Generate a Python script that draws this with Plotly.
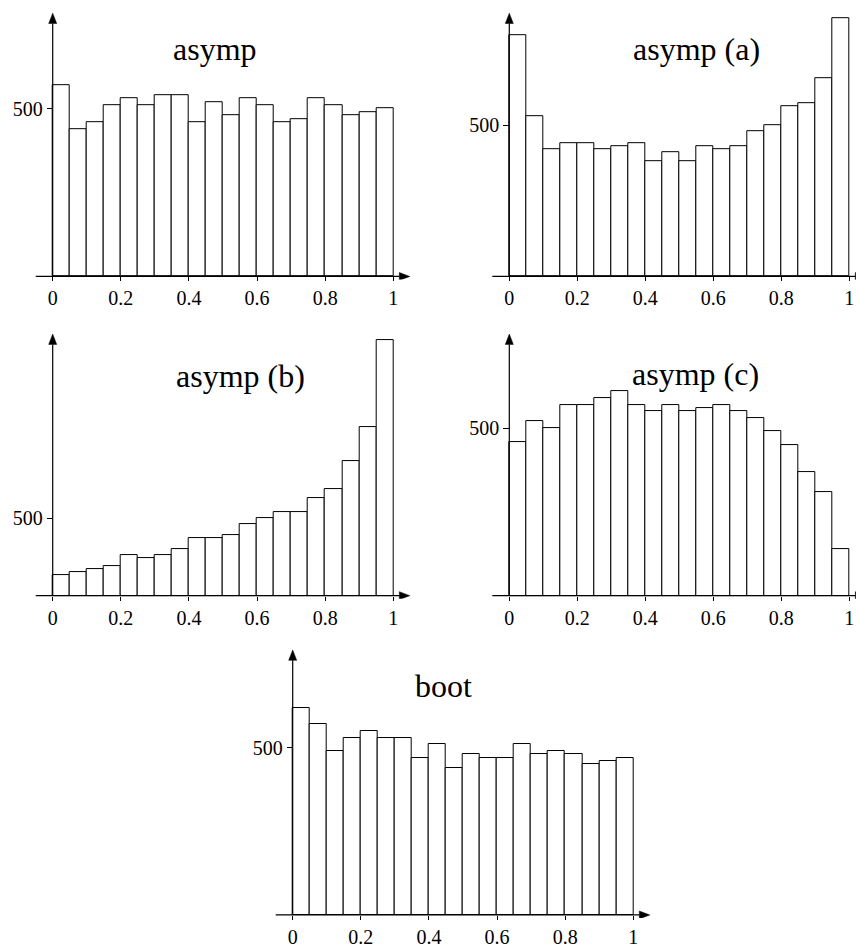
import plotly.graph_objects as go

# ---------------- data ----------------
bin_left = [0.00, 0.05, 0.10, 0.15, 0.20, 0.25, 0.30, 0.35, 0.40, 0.45,
            0.50, 0.55, 0.60, 0.65, 0.70, 0.75, 0.80, 0.85, 0.90, 0.95]
bin_width = 0.05

asymp   = [570, 440, 460, 510, 530, 510, 540, 540, 460, 520,
           480, 530, 510, 460, 470, 530, 510, 480, 490, 500]
asymp_a = [800, 530, 420, 440, 440, 420, 430, 440, 380, 410,
           380, 430, 420, 430, 480, 500, 565, 575, 655, 855]
asymp_b = [130, 150, 170, 190, 260, 240, 260, 300, 370, 370,
           390, 460, 500, 540, 540, 630, 690, 870, 1090, 1650]
asymp_c = [460, 520, 500, 570, 570, 590, 610, 570, 550, 570,
           550, 560, 570, 550, 530, 490, 450, 370, 310, 140]
boot    = [620, 570, 490, 530, 550, 530, 530, 470, 510, 440,
           480, 470, 470, 510, 480, 490, 480, 450, 460, 470]

titles = ["asymp", "asymp (a)", "asymp (b)", "asymp (c)", "boot"]
series = [asymp, asymp_a, asymp_b, asymp_c, boot]

x_ticks = [0, 0.2, 0.4, 0.6, 0.8, 1]
x_tick_labels = ["0", "0.2", "0.4", "0.6", "0.8", "1"]
y_ticks = [500]
y_tick_labels = ["500"]

# ---------------- layout geometry (pixels) ----------------
W, H = 856, 948
FONT = "Liberation Serif, DejaVu Serif, serif"

geo = [
    dict(x0=52.7,  x1=393.3, base=280.0, y500=110.0, tip=13.3,  tx=215.0, ty=50),
    dict(x0=509.3, x1=849.3, base=280.0, y500=127.0, tip=13.3,  tx=696.0, ty=50),
    dict(x0=52.7,  x1=393.3, base=603.3, y500=525.0, tip=338.3, tx=240.5, ty=381),
    dict(x0=509.3, x1=849.3, base=603.3, y500=433.7, tip=338.3, tx=695.7, ty=379),
    dict(x0=292.7, x1=633.3, base=926.7, y500=757.3, tip=658.3, tx=443.0, ty=695),
]

fig = go.Figure()
layout = dict(
    width=W, height=H, autosize=False,
    margin=dict(l=0, r=0, t=0, b=0, pad=0),
    paper_bgcolor="white", plot_bgcolor="rgba(0,0,0,0)",
    showlegend=False, bargap=0,
    font=dict(family=FONT, color="black", size=20),
)
shapes = []
annotations = []

for i, (g, vals, title) in enumerate(zip(geo, series, titles)):
    n = "" if i == 0 else str(i + 1)
    xa, ya = "x" + n, "y" + n
    sx = g["x1"] - g["x0"]                 # px per x unit
    sy = (g["base"] - g["y500"]) / 500.0   # px per y unit

    left = g["x0"] - 25
    right = min(W, g["x1"] + 22)
    top = g["tip"] - 4
    bottom = g["base"] + 3

    xr = [(left - g["x0"]) / sx, (right - g["x0"]) / sx]
    yr = [(g["base"] - bottom) / sy, (g["base"] - top) / sy]

    fig.add_trace(go.Bar(
        x=bin_left, y=vals, width=bin_width, offset=0,
        marker=dict(color="white", line=dict(color="black", width=1)),
        xaxis=xa, yaxis=ya, hoverinfo="skip",
    ))

    layout["xaxis" + n] = dict(
        domain=[left / W, right / W], range=xr,
        anchor="free", position=1 - g["base"] / H,
        showgrid=False, zeroline=False, showline=False,
        tickmode="array", tickvals=x_ticks, ticktext=x_tick_labels,
        ticks="outside", ticklen=4, tickwidth=1, tickcolor="black",
        tickfont=dict(family=FONT, size=20, color="black"),
        fixedrange=True,
    )
    layout["yaxis" + n] = dict(
        domain=[1 - bottom / H, 1 - top / H], range=yr,
        anchor="free", position=g["x0"] / W,
        showgrid=False, zeroline=False, showline=False,
        tickmode="array", tickvals=y_ticks, ticktext=y_tick_labels,
        ticks="outside", ticklen=6, tickwidth=1, tickcolor="black",
        tickfont=dict(family=FONT, size=20, color="black"),
        fixedrange=True,
    )

    # axis lines with arrow heads
    hl, hw = 10.5, 4.0
    x_start = -17.0 / sx
    x_tip = 1 + 16.5 / sx
    y_tip = (g["base"] - g["tip"]) / sy
    shapes.append(dict(type="line", xref=xa, yref=ya,
                       x0=x_start, y0=0, x1=x_tip - hl / sx, y1=0,
                       line=dict(color="black", width=1.2)))
    shapes.append(dict(type="path", xref=xa, yref=ya,
                       path=f"M {x_tip},0 L {x_tip - hl / sx},{hw / sy} "
                            f"L {x_tip - hl / sx},{-hw / sy} Z",
                       fillcolor="black", line=dict(color="black", width=0.5)))
    shapes.append(dict(type="line", xref=xa, yref=ya,
                       x0=0, y0=0, x1=0, y1=y_tip - hl / sy,
                       line=dict(color="black", width=1.2)))
    shapes.append(dict(type="path", xref=xa, yref=ya,
                       path=f"M 0,{y_tip} L {hw / sx},{y_tip - hl / sy} "
                            f"L {-hw / sx},{y_tip - hl / sy} Z",
                       fillcolor="black", line=dict(color="black", width=0.5)))

    annotations.append(dict(
        text=title, xref="paper", yref="paper",
        x=g["tx"] / W, y=1 - g["ty"] / H,
        xanchor="center", yanchor="middle", showarrow=False,
        font=dict(family=FONT, size=32, color="black"),
    ))

layout["shapes"] = shapes
layout["annotations"] = annotations
fig.update_layout(**layout)

page_css = ("var s=document.createElement('style');"
            "s.innerHTML='html,body{margin:0!important;padding:0!important;"
            "overflow:hidden!important;width:856px;height:948px;}';"
            "document.head.appendChild(s);")
fig.write_html(
    "out.html",
    config={"displayModeBar": False, "responsive": False},
    default_width="856px", default_height="948px",
    post_script=page_css,
)
